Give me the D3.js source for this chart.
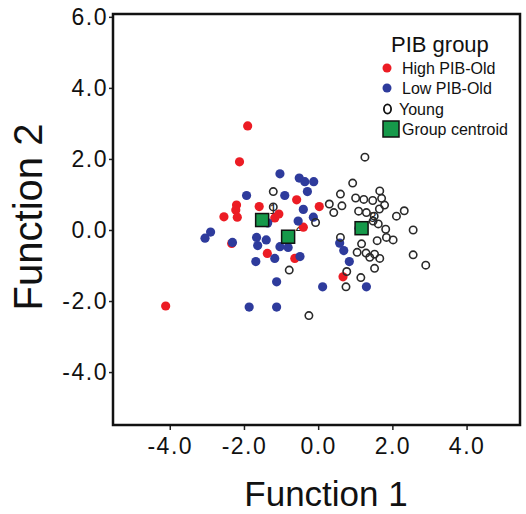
<!DOCTYPE html>
<html lang="en">
<head>
    <meta charset="UTF-8">
    <title>Discriminant functions</title>
    <script src="https://cdn.jsdelivr.net/npm/d3@7"></script>
    <style>
        body {
            margin: 0;
            padding: 0;
            background: #fff;
            font-family: "Liberation Sans", Arial, sans-serif;
        }
        #chart {
            display: block;
        }
    </style>
</head>
<body>
    <svg id="chart" width="526" height="514"></svg>

    <script>
        // values (function 1, function 2)
        const highPibOld = [
            [-1.90, 2.93], [-2.12, 1.92], [-2.20, 0.70], [-2.22, 0.56], [-1.59, 0.66],
            [-2.54, 0.37], [-2.18, 0.36], [-1.17, 0.34], [-1.06, 0.45], [-0.58, 0.85],
            [0.03, 0.66], [-0.40, 0.08], [-2.33, -0.38], [-1.37, -0.66], [-0.63, -0.80],
            [0.67, -1.32], [-4.11, -2.14]
        ];
        const lowPibOld = [
            [-1.03, 1.58], [-1.93, 0.97], [-2.90, -0.06], [-3.05, -0.23], [-2.31, -0.35],
            [-1.66, -0.21], [-1.63, -0.44], [-1.40, -0.28], [-1.36, 0.20], [-1.68, -0.89],
            [-1.17, -0.80], [-1.03, -0.47], [-0.81, -0.49], [-0.49, -0.75], [-1.12, -1.46],
            [-1.86, -2.17], [-1.12, -2.17], [-0.51, 1.46], [-0.36, 1.36], [-0.12, 1.36],
            [-0.29, 1.08], [-0.90, 0.97], [-0.40, 0.58], [-0.13, 0.36], [-0.54, 0.25],
            [0.58, -0.37], [0.69, -0.58], [0.84, -0.89], [0.12, -1.60], [1.30, -1.60],
            [1.10, 0.05]
        ];
        const young = [
            [1.26, 2.05], [0.93, 1.32], [-1.21, 1.08], [0.60, 1.01], [1.66, 1.10],
            [1.01, 0.90], [1.23, 0.86], [1.47, 0.83], [1.71, 0.89], [1.79, 0.70],
            [1.65, 0.59], [0.30, 0.73], [0.64, 0.68], [0.42, 0.49], [1.09, 0.53],
            [1.30, 0.49], [1.51, 0.39], [2.32, 0.54], [2.11, 0.39], [-0.07, 0.21],
            [1.48, 0.25], [1.62, 0.17], [1.82, 0.02], [2.56, 0.00], [1.84, -0.21],
            [2.02, -0.28], [1.59, -0.30], [0.60, -0.21], [1.17, -0.39], [1.05, -0.63],
            [1.29, -0.65], [1.52, -0.68], [1.39, -0.77], [1.66, -0.80], [2.56, -0.70],
            [2.90, -0.99], [1.52, -1.08], [-0.78, -1.13], [0.77, -1.17], [1.15, -1.34],
            [0.75, -1.60], [-0.25, -2.41], [-1.21, 0.65]
        ];
        const centroids = [
            { label: "1", x: -1.51, y: 0.28 },
            { label: "2", x: -0.81, y: -0.19 },
            { label: "3", x: 1.17, y: 0.05 }
        ];
        const xTicks = [-4, -2, 0, 2, 4];
        const yTicks = [-4, -2, 0, 2, 4, 6];
        const legendTitle = "PIB group";
        const legendItems = ["High PIB-Old", "Low PIB-Old", "Young", "Group centroid"];

        const red = "#ec1c24";
        const blue = "#2e3b9c";
        const green = "#16994a";

        const svg = d3.select("#chart");
        const plotL = 113, plotR = 520, plotT = 14, plotB = 425;

        const x = d3.scaleLinear().domain([-5.53, 5.44]).range([plotL, plotR]);
        const y = d3.scaleLinear().domain([-5.49, 6.08]).range([plotB, plotT]);

        // axes
        const xAxis = svg.append("g")
            .attr("transform", `translate(0,${plotB})`)
            .call(d3.axisBottom(x).tickValues(xTicks).tickSize(5).tickPadding(8)
                .tickFormat(d => d.toFixed(1)));
        const yAxis = svg.append("g")
            .attr("transform", `translate(${plotL},0)`)
            .call(d3.axisLeft(y).tickValues(yTicks).tickSize(4).tickPadding(1)
                .tickFormat(d => d.toFixed(1)));

        [xAxis, yAxis].forEach(a => {
            a.select(".domain").remove();
            a.selectAll(".tick line").attr("stroke", "#222").attr("stroke-width", 1.5);
            a.selectAll(".tick text")
                .attr("fill", "#111")
                .style("font-family", "'Liberation Sans', Arial, sans-serif")
                .style("font-size", "23px")
                .style("letter-spacing", "1.5px");
        });

        // frame
        svg.append("rect")
            .attr("x", plotL).attr("y", plotT)
            .attr("width", plotR - plotL).attr("height", plotB - plotT)
            .attr("fill", "none").attr("stroke", "#111").attr("stroke-width", 2.5);

        // centroid numbers sit underneath the points
        svg.append("g").selectAll("text")
            .data(centroids)
            .enter()
            .append("text")
            .attr("x", d => x(d.x) + 11)
            .attr("y", d => y(d.y) - 6)
            .attr("text-anchor", "middle")
            .attr("font-size", 14)
            .attr("fill", "#222")
            .text(d => d.label);

        svg.append("g").selectAll("circle")
            .data(highPibOld)
            .enter()
            .append("circle")
            .attr("cx", d => x(d[0]))
            .attr("cy", d => y(d[1]))
            .attr("r", 4.6)
            .attr("fill", red);

        svg.append("g").selectAll("circle")
            .data(lowPibOld)
            .enter()
            .append("circle")
            .attr("cx", d => x(d[0]))
            .attr("cy", d => y(d[1]))
            .attr("r", 4.6)
            .attr("fill", blue);

        svg.append("g").selectAll("circle")
            .data(young)
            .enter()
            .append("circle")
            .attr("cx", d => x(d[0]))
            .attr("cy", d => y(d[1]))
            .attr("r", 3.7)
            .attr("fill", "none")
            .attr("stroke", "#2a2a2a")
            .attr("stroke-width", 1.6);

        svg.append("g").selectAll("rect")
            .data(centroids)
            .enter()
            .append("rect")
            .attr("x", d => x(d.x) - 6.5)
            .attr("y", d => y(d.y) - 6.5)
            .attr("width", 13)
            .attr("height", 13)
            .attr("fill", green)
            .attr("stroke", "#111")
            .attr("stroke-width", 1.5);

        // legend
        const legend = svg.append("g");
        legend.append("text")
            .attr("x", 391).attr("y", 52)
            .attr("font-size", 22)
            .attr("fill", "#111")
            .text(legendTitle);

        const rowY = [68, 88, 109, 129];
        const textX = [402, 402, 399, 402];
        legend.append("circle").attr("cx", 387).attr("cy", rowY[0]).attr("r", 4.5).attr("fill", red);
        legend.append("circle").attr("cx", 387).attr("cy", rowY[1]).attr("r", 4.5).attr("fill", blue);
        legend.append("ellipse").attr("cx", 387.5).attr("cy", rowY[2]).attr("rx", 3.6).attr("ry", 4.6)
            .attr("fill", "none").attr("stroke", "#111").attr("stroke-width", 1.8);
        legend.append("rect").attr("x", 383).attr("y", rowY[3] - 8).attr("width", 16).attr("height", 16)
            .attr("fill", green).attr("stroke", "#111").attr("stroke-width", 1.5);

        legend.selectAll(".item")
            .data(legendItems)
            .enter()
            .append("text")
            .attr("class", "item")
            .attr("x", (d, i) => textX[i])
            .attr("y", (d, i) => rowY[i] + 6)
            .attr("font-size", 16)
            .attr("fill", "#111")
            .text(d => d);

        // axis titles
        svg.append("text")
            .attr("x", 326).attr("y", 506)
            .attr("text-anchor", "middle")
            .attr("font-size", 35)
            .attr("fill", "#111")
            .text("Function 1");
        svg.append("text")
            .attr("transform", "translate(42,217) rotate(-90)")
            .attr("text-anchor", "middle")
            .attr("font-size", 40)
            .attr("fill", "#111")
            .text("Function 2");
    </script>
</body>
</html>
